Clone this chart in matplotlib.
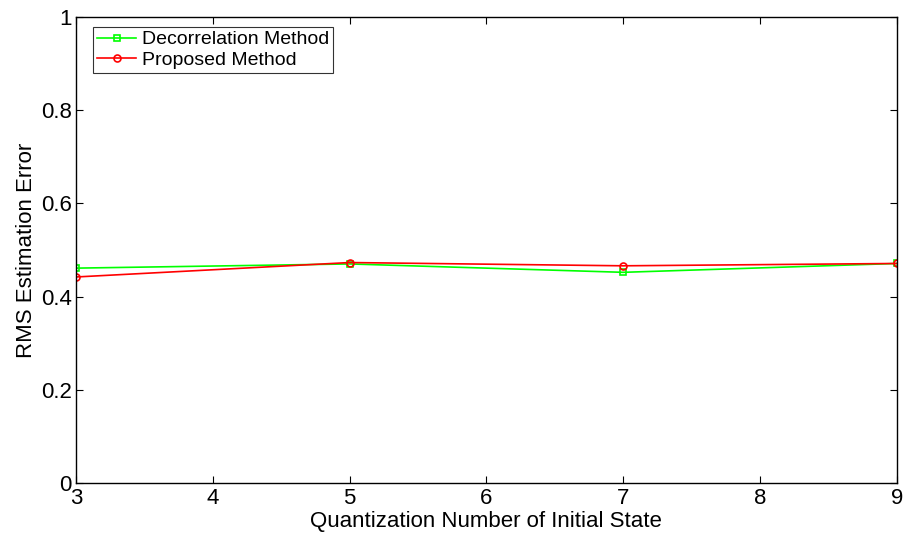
import matplotlib
matplotlib.use("Agg")
import matplotlib.pyplot as plt

x = [3, 5, 7, 9]
decorrelation = [0.461, 0.470, 0.452, 0.471]
proposed = [0.442, 0.473, 0.466, 0.471]

plt.rcParams['font.family'] = ['Liberation Sans', 'DejaVu Sans']

fig = plt.figure(figsize=(9.07, 5.37), dpi=100)
ax = fig.add_axes([0.0838, 0.101, 0.905, 0.867])

ax.plot(x, decorrelation, '-s', color='#00ff00', lw=1.2, ms=5, mfc='none', mew=1.2,
        label='Decorrelation Method')
ax.plot(x, proposed, '-o', color='#ff0000', lw=1.2, ms=5, mfc='none', mew=1.2,
        label='Proposed Method')

ax.set_xlim(3, 9)
ax.set_ylim(0, 1)
ax.set_xticks(range(3, 10))
ax.set_yticks([0, 0.2, 0.4, 0.6, 0.8, 1])
ax.set_yticklabels(['0', '0.2', '0.4', '0.6', '0.8', '1'])
ax.tick_params(direction='in', top=True, right=True, labelsize=16, length=5, width=0.8)
ax.tick_params(axis='x', pad=4)
ax.tick_params(axis='y', pad=3)
for s in ax.spines.values():
    s.set_linewidth(1.0)
ax.set_xlabel('Quantization Number of Initial State', fontsize=16, labelpad=1)
ax.set_ylabel('RMS Estimation Error', fontsize=16, labelpad=3)

leg = ax.legend(loc='upper left', bbox_to_anchor=(0.021, 0.979), fontsize=14, frameon=True,
                fancybox=False, edgecolor='black', handlelength=2.0, borderpad=0.2,
                labelspacing=0.15, handletextpad=0.3, borderaxespad=0)
leg.get_frame().set_linewidth(0.8)

fig.savefig('out.png', dpi=100)
